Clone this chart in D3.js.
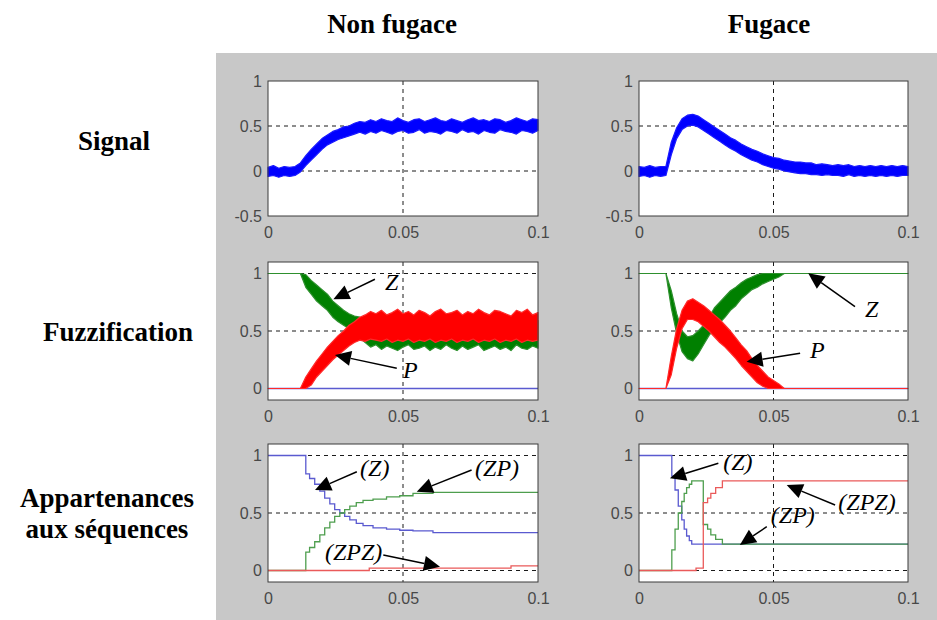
<!DOCTYPE html>
<html><head><meta charset="utf-8">
<script src="https://cdn.jsdelivr.net/npm/d3@7"></script>
<style>body{margin:0;background:#fff} svg{display:block}</style>
</head><body>
<svg id="chart" width="937" height="620"></svg>
<script>
// ---------- text ----------
const columnTitles = ["Non fugace", "Fugace"];
const rowLabels = [["Signal"], ["Fuzzification"], ["Appartenances", "aux séquences"]];
const xTicks = [0, 0.05, 0.1];
const yTicksSignal = [-0.5, 0, 0.5, 1];
const yTicksMember = [0, 0.5, 1];

// ---------- sample grid (s) ----------
const sampleTimes = [0,.002,.004,.006,.008,.01,.012,.014,.016,.018,.02,.022,.024,.026,.028,.03,.032,.034,.036,.038,.04,.042,.044,.046,.048,.05,.052,.054,.056,.058,.06,.062,.064,.066,.068,.07,.072,.074,.076,.078,.08,.082,.084,.086,.088,.09,.092,.094,.096,.098,.1];

// ---------- Signal: noisy band (upper / lower envelope) ----------
const signalNonFugaceHi = [.04,.06,.03,.05,.04,.05,.09,.17,.24,.30,.36,.40,.44,.46,.49,.50,.53,.55,.54,.57,.55,.58,.56,.55,.59,.56,.54,.57,.58,.55,.57,.59,.56,.55,.58,.56,.54,.57,.59,.56,.57,.55,.58,.57,.54,.56,.59,.57,.55,.58,.57];
const signalNonFugaceLo = [-.06,-.05,-.07,-.05,-.06,-.05,-.01,.06,.12,.18,.24,.29,.32,.35,.37,.39,.41,.43,.41,.44,.42,.45,.43,.41,.44,.45,.42,.43,.46,.42,.44,.43,.41,.45,.44,.42,.46,.43,.44,.41,.45,.43,.42,.46,.44,.43,.41,.45,.44,.42,.45];
const signalFugaceHi = [.05,.04,.06,.04,.05,.05,.32,.48,.58,.62,.63,.61,.57,.53,.49,.45,.41,.37,.34,.30,.27,.24,.22,.19,.17,.15,.14,.12,.11,.10,.10,.09,.09,.07,.08,.07,.06,.07,.06,.07,.05,.06,.05,.06,.05,.06,.05,.06,.05,.06,.05];
const signalFugaceLo = [-.06,-.05,-.07,-.05,-.06,-.05,.18,.36,.46,.50,.51,.49,.45,.41,.37,.33,.29,.25,.22,.18,.15,.12,.10,.07,.05,.03,.02,.00,-.01,-.02,-.03,-.03,-.04,-.04,-.05,-.04,-.05,-.05,-.06,-.04,-.06,-.05,-.06,-.05,-.06,-.05,-.06,-.05,-.06,-.05,-.05];

// ---------- Fuzzification: membership bands ----------
const fuzzZNonFugaceHi = [1,1,1,1,1,1,1,.99,.94,.90,.86,.82,.76,.72,.68,.65,.63,.62,.60,.61,.59,.60,.58,.61,.59,.60,.58,.61,.59,.60,.58,.61,.59,.60,.58,.61,.59,.60,.58,.61,.59,.60,.58,.61,.59,.60,.58,.61,.59,.60,.59];
const fuzzZNonFugaceLo = [1,1,1,1,1,1,1,.88,.82,.76,.72,.68,.62,.58,.55,.52,.48,.44,.40,.36,.38,.34,.37,.35,.33,.36,.38,.34,.35,.37,.33,.36,.34,.38,.35,.33,.37,.34,.36,.38,.33,.35,.37,.34,.36,.33,.38,.35,.34,.37,.35];
const fuzzPNonFugaceHi = [0,0,0,0,0,0,0,.10,.17,.24,.30,.36,.41,.46,.50,.55,.58,.62,.64,.67,.65,.68,.64,.66,.69,.65,.67,.64,.68,.66,.63,.67,.69,.65,.66,.68,.64,.67,.65,.69,.66,.64,.68,.67,.65,.63,.68,.66,.69,.64,.66];
const fuzzPNonFugaceLo = [0,0,0,0,0,0,0,0,.03,.10,.15,.20,.25,.29,.33,.37,.40,.42,.41,.43,.42,.41,.43,.40,.42,.41,.43,.40,.42,.41,.43,.40,.42,.41,.43,.40,.42,.41,.43,.40,.42,.41,.43,.40,.42,.41,.43,.40,.42,.41,.42];
const fuzzZFugaceHi = [1,1,1,1,1,1,.85,.65,.50,.45,.46,.50,.55,.62,.70,.75,.80,.85,.88,.92,.95,.97,.99,1,1,1,1,1,1,1,1,1,1,1,1,1,1,1,1,1,1,1,1,1,1,1,1,1,1,1,1];
const fuzzZFugaceLo = [1,1,1,1,1,1,.70,.48,.32,.26,.24,.30,.38,.46,.52,.57,.62,.68,.72,.78,.82,.86,.88,.91,.93,.95,.97,1,1,1,1,1,1,1,1,1,1,1,1,1,1,1,1,1,1,1,1,1,1,1,1];
const fuzzPFugaceHi = [0,0,0,0,0,0,.28,.52,.68,.76,.78,.75,.72,.68,.64,.60,.55,.50,.44,.38,.33,.26,.20,.15,.10,.07,.04,0,0,0,0,0,0,0,0,0,0,0,0,0,0,0,0,0,0,0,0,0,0,0,0];
const fuzzPFugaceLo = [0,0,0,0,0,0,.12,.35,.52,.60,.60,.58,.54,.50,.45,.40,.36,.31,.26,.20,.15,.10,.05,.02,0,0,0,0,0,0,0,0,0,0,0,0,0,0,0,0,0,0,0,0,0,0,0,0,0,0,0];
const fuzzNNonFugace = [[0, 0], [0.1, 0]];
const fuzzNFugace = [[0, 0], [0.1, 0]];

// ---------- Appartenances aux séquences: step series [t, value] ----------
const seqZNonFugace = [[0,1],[0.014,0.84],[0.0154,0.80],[0.0173,0.75],[0.0192,0.69],[0.021,0.63],[0.0229,0.58],[0.0247,0.53],[0.0266,0.50],[0.0284,0.47],[0.0303,0.44],[0.0327,0.41],[0.0352,0.39],[0.0389,0.37],[0.0439,0.36],[0.0488,0.35],[0.0537,0.345],[0.0611,0.33],[0.1,0.33]];
const seqZPNonFugace = [[0,0],[0.014,0.16],[0.0154,0.20],[0.0173,0.25],[0.0192,0.31],[0.021,0.37],[0.0229,0.42],[0.0247,0.47],[0.0266,0.50],[0.0284,0.53],[0.0303,0.56],[0.0327,0.59],[0.0352,0.61],[0.0389,0.62],[0.0439,0.64],[0.0488,0.65],[0.0537,0.67],[0.0611,0.68],[0.1,0.68]];
const seqZPZNonFugace = [[0,0],[0.0375,0.02],[0.09,0.04],[0.1,0.04]];
const seqZFugace = [[0,1],[0.0122,0.82],[0.0134,0.70],[0.0146,0.56],[0.0159,0.44],[0.0168,0.36],[0.0177,0.30],[0.0187,0.26],[0.0196,0.23],[0.1,0.23]];
const seqZPFugace = [[0,0],[0.0122,0.18],[0.0134,0.36],[0.0146,0.50],[0.0159,0.60],[0.0168,0.67],[0.0177,0.72],[0.0187,0.75],[0.0196,0.78],[0.0239,0.40],[0.0255,0.36],[0.0267,0.31],[0.0285,0.27],[0.031,0.23],[0.1,0.23]];
const seqZPZFugace = [[0,0],[0.0212,0.02],[0.0239,0.59],[0.0255,0.63],[0.0267,0.67],[0.0285,0.72],[0.031,0.78],[0.1,0.78]];

// ---------- annotations (data units: text anchor, arrow start, arrow tip) ----------
const notesFuzzNonFugace = [
  {label:"Z", tx:0.0433, ty:0.857, x1:0.0396, y1:0.950, x2:0.0242, y2:0.776},
  {label:"P", tx:0.0500, ty:0.091, x1:0.0477, y1:0.176, x2:0.0248, y2:0.291}];
const notesFuzzFugace = [
  {label:"Z", tx:0.0840, ty:0.624, x1:0.0803, y1:0.711, x2:0.0629, y2:1.002},
  {label:"P", tx:0.0636, ty:0.263, x1:0.0599, y1:0.306, x2:0.0400, y2:0.233}];
const notesSeqNonFugace = [
  {label:"(Z)", tx:0.0341, ty:0.822, x1:0.0329, y1:0.859, x2:0.0174, y2:0.700},
  {label:"(ZP)", tx:0.0767, ty:0.822, x1:0.0754, y1:0.874, x2:0.0551, y2:0.685},
  {label:"(ZPZ)", tx:0.0211, ty:0.091, x1:0.0427, y1:0.135, x2:0.0637, y2:0.033}];
const notesSeqFugace = [
  {label:"(Z)", tx:0.0313, ty:0.874, x1:0.0295, y1:0.932, x2:0.0115, y2:0.802},
  {label:"(ZPZ)", tx:0.0741, ty:0.526, x1:0.0729, y1:0.570, x2:0.0549, y2:0.743},
  {label:"(ZP)", tx:0.0490, ty:0.410, x1:0.0475, y1:0.381, x2:0.0375, y2:0.222}];

// ---------- drawing ----------
const svg = d3.select("#chart");
svg.append("rect").attr("x",216).attr("y",53).attr("width",721).attr("height",567).attr("fill","#c8c8c8");

const colX = [[268,538],[639,908]];
const rowY = [[216,81],[400,262],[582,444]];
const yDomains = [[-0.5,1],[-0.1,1.1],[-0.1,1.1]];
const yTickSets = [yTicksSignal, yTicksMember, yTicksMember];
const gridY = [[0,0.5],[0,0.5,1],[0,0.5,1]];

const serif = "'Liberation Serif','Times New Roman',serif";
const sans = "'Liberation Sans',Arial,Helvetica,sans-serif";

const C = {blue:"#0000ff", green:"#008000", red:"#ff0000",
           blueThin:"#5a5ad0", greenThin:"#4e9e4e", redThin:"#ea5a5a",
           greenEdge:"#2e902e", redEdge:"#ff2a2a", blueEdge:"#1a1aff"};

function band(g, x, y, hi, lo, fill, edge) {
  const area = d3.area()
    .x((d,i) => x(sampleTimes[i]))
    .y0((d,i) => y(lo[i]))
    .y1((d,i) => y(hi[i]));
  g.append("path").datum(hi).attr("d", area)
    .attr("fill", fill).attr("stroke", edge).attr("stroke-width", 1.2)
    .attr("stroke-linejoin","round");
}
function stepLine(g, x, y, data, color) {
  const line = d3.line().x(d => x(d[0])).y(d => y(d[1])).curve(d3.curveStepAfter);
  g.append("path").datum(data).attr("d", line)
    .attr("fill","none").attr("stroke", color).attr("stroke-width", 1.3);
}
function notes(g, x, y, list) {
  list.forEach(n => {
    const sx = x(n.x1), sy = y(n.y1), ex = x(n.x2), ey = y(n.y2);
    const dx = ex - sx, dy = ey - sy, L = Math.hypot(dx, dy);
    const ux = dx / L, uy = dy / L, hl = 16, hw = 7.5;
    const bx = ex - ux*hl, by = ey - uy*hl;
    g.append("line").attr("x1",sx).attr("y1",sy).attr("x2",bx).attr("y2",by)
      .attr("stroke","#000").attr("stroke-width",1.5);
    g.append("path").attr("d",`M${ex},${ey}L${bx - uy*hw},${by + ux*hw}L${bx + uy*hw},${by - ux*hw}Z`)
      .attr("fill","#000");
    g.append("text").attr("x", x(n.tx)).attr("y", y(n.ty)).text(n.label)
      .attr("font-family", serif).attr("font-style","italic").attr("font-size",24).attr("fill","#000");
  });
}

const fmt = d => String(d);

function panel(r, c, drawData, noteList) {
  const x = d3.scaleLinear().domain([0,0.1]).range(colX[c]);
  const y = d3.scaleLinear().domain(yDomains[r]).range(rowY[r]);
  const g = svg.append("g");
  const [x0,x1] = colX[c], [yb,yt] = rowY[r];
  g.append("rect").attr("x",x0).attr("y",yt).attr("width",x1-x0).attr("height",yb-yt).attr("fill","#fff");
  // grid
  gridY[r].forEach(v => g.append("line").attr("x1",x0).attr("x2",x1).attr("y1",y(v)).attr("y2",y(v))
      .attr("stroke","#1a1a1a").attr("stroke-width",1).attr("stroke-dasharray","4,4"));
  g.append("line").attr("x1",x(0.05)).attr("x2",x(0.05)).attr("y1",yt).attr("y2",yb)
      .attr("stroke","#1a1a1a").attr("stroke-width",1).attr("stroke-dasharray","4,4");
  drawData(g, x, y);
  g.append("rect").attr("x",x0).attr("y",yt).attr("width",x1-x0).attr("height",yb-yt)
    .attr("fill","none").attr("stroke","#3a3a3a").attr("stroke-width",1);
  // axes
  const ax = g.append("g").attr("transform",`translate(0,${yb})`)
    .call(d3.axisBottom(x).tickValues(xTicks).tickSize(0).tickPadding(11).tickFormat(fmt));
  const ay = g.append("g").attr("transform",`translate(${x0},0)`)
    .call(d3.axisLeft(y).tickValues(yTickSets[r]).tickSize(0).tickPadding(6).tickFormat(fmt));
  [ax, ay].forEach(a => {
    a.select(".domain").remove();
    a.selectAll("text").attr("font-family", sans).attr("font-size",16).attr("fill","#484848");
  });
  if (noteList) notes(g, x, y, noteList);
}

panel(0,0,(g,x,y)=>band(g,x,y,signalNonFugaceHi,signalNonFugaceLo,C.blue,C.blueEdge));
panel(0,1,(g,x,y)=>band(g,x,y,signalFugaceHi,signalFugaceLo,C.blue,C.blueEdge));
panel(1,0,(g,x,y)=>{
  stepLine(g,x,y,fuzzNNonFugace,C.blueThin);
  band(g,x,y,fuzzZNonFugaceHi,fuzzZNonFugaceLo,C.green,C.greenEdge);
  band(g,x,y,fuzzPNonFugaceHi,fuzzPNonFugaceLo,C.red,C.redEdge);
}, notesFuzzNonFugace);
panel(1,1,(g,x,y)=>{
  stepLine(g,x,y,fuzzNFugace,C.blueThin);
  band(g,x,y,fuzzZFugaceHi,fuzzZFugaceLo,C.green,C.greenEdge);
  band(g,x,y,fuzzPFugaceHi,fuzzPFugaceLo,C.red,C.redEdge);
}, notesFuzzFugace);
panel(2,0,(g,x,y)=>{
  stepLine(g,x,y,seqZNonFugace,C.blueThin);
  stepLine(g,x,y,seqZPNonFugace,C.greenThin);
  stepLine(g,x,y,seqZPZNonFugace,C.redThin);
}, notesSeqNonFugace);
panel(2,1,(g,x,y)=>{
  stepLine(g,x,y,seqZFugace,C.blueThin);
  stepLine(g,x,y,seqZPFugace,C.greenThin);
  stepLine(g,x,y,seqZPZFugace,C.redThin);
}, notesSeqFugace);

// titles & row labels
const titleX = [392, 769];
columnTitles.forEach((t,i) => svg.append("text").attr("x",titleX[i]).attr("y",33).attr("text-anchor","middle")
  .attr("font-family",serif).attr("font-weight","bold").attr("font-size",27).attr("fill","#000").text(t));
const labelPos = [{x:114, y:[150]}, {x:118, y:[341]}, {x:107, y:[507,538]}];
rowLabels.forEach((lines,i) => lines.forEach((t,j) => svg.append("text")
  .attr("x",labelPos[i].x).attr("y",labelPos[i].y[j]).attr("text-anchor","middle")
  .attr("font-family",serif).attr("font-weight","bold").attr("font-size",27).attr("fill","#000").text(t)));
</script>
</body></html>
